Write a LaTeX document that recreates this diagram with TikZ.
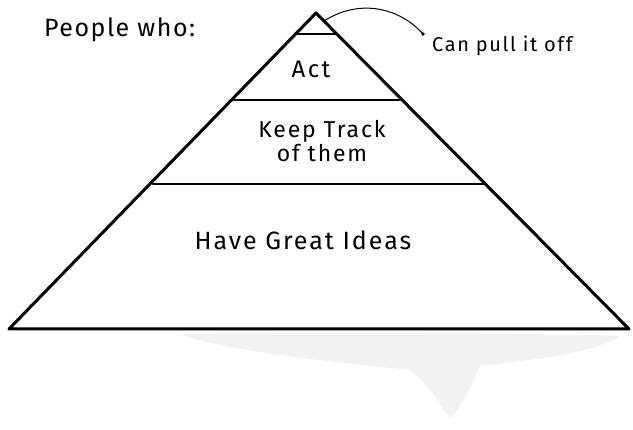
\documentclass[tikz,border=0pt]{standalone}
\usepackage{fontspec}
\setmainfont{Fira Sans}
\begin{document}
\begin{tikzpicture}[x=1pt,y=-1pt,
  edge/.style={line width=3pt,line join=round,line cap=round},
  band/.style={line width=2.6pt,line cap=round},
  lbl/.style={inner sep=0pt,font=\fontsize{25}{26}\selectfont\addfontfeature{LetterSpace=6}},
  conn/.style={line width=1pt}]
\useasboundingbox (0,0) rectangle (633,430);
% scan smudge below the base
\fill[black!5] (180,334) .. controls (300,333) and (560,333) .. (620,336)
  .. controls (600,352) and (520,362) .. (480,366)
  .. controls (470,390) and (460,410) .. (450,418)
  .. controls (440,405) and (430,385) .. (410,370)
  .. controls (330,362) and (220,350) .. cycle;
% pyramid corners
\coordinate (apex) at (316,13);
\coordinate (bl) at (9,329);
\coordinate (br) at (629,329);
\coordinate (t1l) at (297,34);
\coordinate (t1r) at (336,34);
\coordinate (t2l) at (233,100);
\coordinate (t2r) at (400,100);
\coordinate (t3l) at (153,184);
\coordinate (t3r) at (484,184);
\draw[edge] (bl) -- (apex) -- (br) -- cycle;
\draw[band] (t1l) -- (t1r);
\draw[band] (t2l) -- (t2r);
\draw[band] (t3l) -- (t3r);
% labels
\node[lbl,anchor=west] (people) at (44,30) {People who:};
\node[lbl,font=\fontsize{24}{26}\selectfont\addfontfeature{LetterSpace=10}] (act) at (311,69) {Act};
\node[lbl,align=center,font=\fontsize{23}{24}\selectfont\addfontfeature{LetterSpace=8}] (keep) at (322,141) {Keep Track\\of them};
\node[lbl,font=\fontsize{25}{26}\selectfont\addfontfeature{LetterSpace=8}] (ideas) at (303,240) {Have Great Ideas};
% callout
\coordinate (tip) at (324,21);
\coordinate (dot) at (423,34);
\draw[conn] (tip) .. controls (360,-2) and (400,8) .. (dot);
\fill (dot) circle (1.8);
\node[lbl,anchor=west,font=\fontsize{20}{22}\selectfont\addfontfeature{LetterSpace=8}] (pull) at (432,46) {Can pull it off};
\end{tikzpicture}
\end{document}
